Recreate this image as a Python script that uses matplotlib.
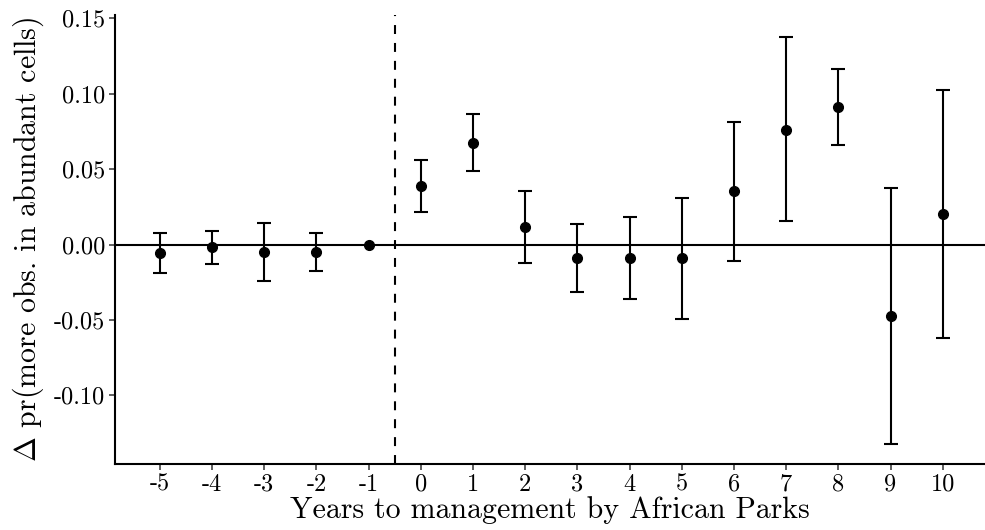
import matplotlib
matplotlib.use("Agg")
import matplotlib.pyplot as plt

plt.rcParams['font.family'] = ['cmr10', 'DejaVu Serif']
plt.rcParams['mathtext.fontset'] = 'cm'
plt.rcParams['axes.unicode_minus'] = False

years = [-5, -4, -3, -2, -1, 0, 1, 2, 3, 4, 5, 6, 7, 8, 9, 10]
estimate = [-0.0057, -0.0018, -0.0051, -0.0050, 0.0, 0.0385, 0.0674, 0.0114,
            -0.0088, -0.0088, -0.0088, 0.0352, 0.0762, 0.0913, -0.0473, 0.0200]
ci_low = [-0.0190, -0.0128, -0.0240, -0.0176, 0.0, 0.0213, 0.0487, -0.0123,
          -0.0317, -0.0363, -0.0491, -0.0110, 0.0154, 0.0663, -0.1323, -0.0621]
ci_high = [0.0075, 0.0092, 0.0141, 0.0079, 0.0, 0.0560, 0.0863, 0.0355,
           0.0139, 0.0185, 0.0312, 0.0814, 0.1374, 0.1167, 0.0374, 0.1022]
x_labels = [str(y) for y in years]
y_ticks = [-0.10, -0.05, 0.00, 0.05, 0.10, 0.15]
y_labels = ['-0.10', '-0.05', '0.00', '0.05', '0.10', '0.15']
event_line = -0.5

fig = plt.figure(figsize=(9.85, 5.3), dpi=100)
ax = fig.add_axes([0.1168, 0.1245, 0.8832, 0.8472])

ax.axhline(0, color='black', lw=1.5, zorder=1)
ax.axvline(event_line, color='black', lw=1.5, ls=(0, (4.3, 4.3)), zorder=1)

for x, e, lo, hi in zip(years, estimate, ci_low, ci_high):
    if hi - lo > 0:
        ax.errorbar([x], [e], yerr=[[e - lo], [hi - e]], fmt='none',
                    ecolor='black', elinewidth=1.5, capsize=5, capthick=1.5, zorder=2)
ax.plot(years, estimate, 'o', color='black', markersize=7, zorder=3)

ax.set_xlim(-5.86, 10.81)
ax.set_ylim(-0.1455, 0.1522)
ax.set_xticks(years)
ax.set_xticklabels(x_labels)
ax.set_yticks(y_ticks)
ax.set_yticklabels(y_labels)

for s in ['top', 'right']:
    ax.spines[s].set_visible(False)
for s in ['left', 'bottom']:
    ax.spines[s].set_linewidth(1.5)

ax.tick_params(axis='both', labelsize=17.5, colors='#333333', labelcolor='black',
               length=4, width=1.1, pad=3)

ax.set_xlabel('Years to management by African Parks', fontsize=21.5, labelpad=0)
ax.set_ylabel(r'$\Delta$ pr(more obs. in abundant cells)', fontsize=21.5, labelpad=6)

fig.savefig('out.png', dpi=100)
